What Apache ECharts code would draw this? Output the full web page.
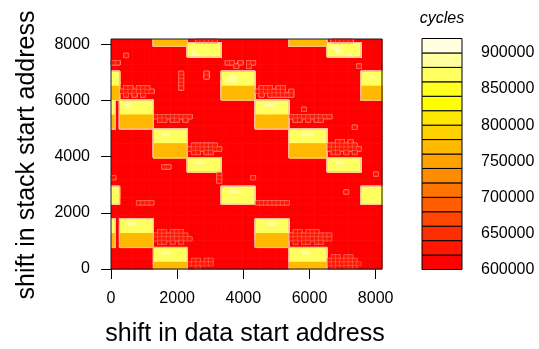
<!DOCTYPE html>
<html><head><meta charset="utf-8">
<script src="https://cdn.jsdelivr.net/npm/echarts@6/dist/echarts.min.js"></script>
<style>html,body{margin:0;padding:0;background:#fff}#c{width:539px;height:349px}</style>
</head><body><div id="c"></div>
<script>
// ---- data ----
const xTicks = [0, 2000, 4000, 6000, 8000];
const yTicks = [0, 2000, 4000, 6000, 8000];
const levelTicks = [600000, 650000, 700000, 750000, 800000, 850000, 900000];
const levelBreaks = [600000, 620000, 640000, 660000, 680000, 700000, 720000, 740000,
  760000, 780000, 800000, 820000, 840000, 860000, 880000, 900000, 920000];
const levelColors = ['#FF0000', '#FF1700', '#FF2E00', '#FF4600', '#FF5D00', '#FF7400', '#FF8B00', '#FFA200',
  '#FFB900', '#FFD100', '#FFE800', '#FFFF00', '#FFFF20', '#FFFF60', '#FFFF9F', '#FFFFDF'];
const addrMax = 8192;
const addrStep = 128; // measurement step in both address directions
// one string per stack shift (top = 8064 ... bottom = 0); one hex digit per data shift = colour level index
const levelRows = [
"00 00000000 88888888 00111110 00000000 00000000 888888888 01111100 00000",
"00 00000000 88888888 dddddddd 00000000 00000000 888888888 dddddddd 00000",
"00 00000000 00000000 dddddddd 00000000 00000000 000000000 deeddddd 00000",
"00 00000000 00000000 dedddddd 00000000 00000000 000000000 ddeedddd 00000",
"00 01000000 00000000 deeddddd 00000000 00000000 000000000 dddddedd 00000",
"00 00000000 00000000 00000000 00000000 00000000 000000000 00000000 00000",
"11 00000000 00000000 00000000 01101011 00000000 000000000 00000000 00000",
"00 00000000 00000000 00000000 00010010 00000000 000000000 00000001 00000",
"00 00000000 00000000 00000000 00000000 00000000 000000000 00000000 00000",
"dd 00000000 00000010 00001000 dddddddd 00000000 000000000 00000000 ddddd",
"dd 00000000 00000010 00001000 ddeedddd 00000000 000000000 00000000 ddedd",
"dd 00000000 00000010 00000000 deeedddd 00000000 000000000 00000000 ddddd",
"dd 00000000 00000010 00000000 dddddddd 00000000 000000000 00000000 ddddd",
"88 01101110 00000010 00000000 88888888 01110110 000000000 00000000 88888",
"88 11111111 00000000 00000000 88888888 11111110 100000000 00000000 88888",
"88 01010100 00000000 00000000 88888888 01011111 100000000 00000000 88888",
"88 00000000 00000000 00000000 88888888 00000000 000000000 00000000 88888",
"d0 dddddddd 00000000 00000000 00000000 dddddddd 000000000 00000000 00000",
"d0 deeddddd 00000000 00000000 00000000 ddeeeddd 000000000 00000000 00000",
"d0 dddddddd 00000000 00000000 00000000 dddddddd 000100000 00000000 00000",
"d0 dddddddd 00000000 00000000 00000000 dddddddd 000000000 00000000 00000",
"80 88888888 11111111 10000000 00000000 88888888 111111111 10000000 00000",
"80 88888888 01101101 00000000 00000000 88888888 011010110 00000000 00000",
"80 88888888 00000000 00000000 00000000 88888888 000000000 00000000 00000",
"80 88888888 00000000 00000000 00000000 88888888 000000000 00000010 00000",
"00 00000000 dddddddd 00000000 00000000 00000000 ddddddddd 00000000 00000",
"00 00000000 ddeedddd 00000000 00000000 00000000 dddeeeddd 00000000 00000",
"00 00000000 dddddddd 00000000 00000000 00000000 ddddddddd 00000000 00000",
"00 00000000 dddddddd 00000000 00000000 00000000 ddddddddd 00110100 00000",
"00 00000000 88888888 01111110 00000000 00000000 888888888 11111110 00000",
"00 00000000 88888888 11111111 00000000 00000000 888888888 11111111 00000",
"00 00000000 88888888 01101100 00000000 00000000 888888888 01101010 00000",
"00 00000000 88888888 00000000 00000000 00000000 888888888 00000000 00000",
"00 00000000 00000000 dddddddd 00000000 00000000 000000000 dddddddd 00000",
"00 00000000 00000000 ddeedddd 00000000 00000000 000000000 ddeedddd 00000",
"00 00000000 00110000 dddddddd 00000000 00000000 000000000 dddddddd 00000",
"00 00000000 00000000 dddddddd 00000000 00000000 000000000 dddddddd 00000",
"00 00000000 00000000 00000001 00000000 00000000 000000000 00000000 00010",
"10 00000000 00000000 00000001 00000001 00000000 000000000 00000000 00000",
"00 00000000 00000000 00000001 00000000 00000000 000000000 00000000 00000",
"00 00000000 00000000 00000000 00000000 00000000 000000000 00000000 00000",
"dd 00000000 00000000 00000000 dddddddd 00000000 000000000 00000000 ddddd",
"dd 00000000 00000000 00000000 ddeedddd 00000000 000000000 00001000 ddddd",
"dd 00000000 00000000 00000000 dddddddd 00000000 000000000 00000000 ddddd",
"dd 00000000 00000000 00000000 dddddddd 00000000 000000000 00000000 ddddd",
"dd 00001111 00000000 00000000 dddddddd 11111111 000000000 00000000 ddddd",
"00 00000000 00000000 00000000 00000000 00000000 000000000 00000000 00000",
"00 00000000 00000000 00000000 00000000 00000000 000000000 00000000 00000",
"00 00000000 00000000 00000000 00000000 00000000 000000000 00000000 00000",
"00 00000000 00000000 00000000 00000000 00000000 000000000 00000000 00000",
"d0 dddddddd 00000000 00000000 00000000 dddddddd 000000000 00000000 00000",
"d0 ddeedddd 00000000 00000000 00000000 dddeeddd 000000000 00000000 00000",
"d0 dddddddd 00000000 00000000 00000000 dddddddd 000000000 00000000 00000",
"d0 dddddddd 01101110 00000000 00000000 dddddddd 011011100 00000000 00000",
"80 88888888 11111111 00000000 00000000 88888888 111111111 10000000 00000",
"80 88888888 11111111 10000000 00000000 88888888 111111111 10000000 00000",
"80 88888888 01101010 00000000 00000000 88888888 010110110 00000000 00000",
"80 88888888 00000000 00000000 00000000 88888888 000000000 00000000 00000",
"00 00000000 dddddddd 00000000 00000000 00000000 ddddddddd 00000000 00000",
"00 00000000 ddeedddd 00000000 00000000 00000000 dddeedddd 00000000 00000",
"00 00000000 dddddddd 00000000 00000000 00000000 ddddddddd 01101100 00000",
"00 00000000 dddddddd 01101100 00000000 00000000 ddddddddd 11111110 00000",
"00 00000000 88888888 11111100 00000000 00000000 888888888 11111111 00000",
"00 00000000 88888888 00100000 00000000 00000000 888888888 01101110 00000"
];

// ---- build series data ----
const cells = [];
const levelGrid = []; // levelGrid[row][col], row 0 = stack shift 0
const nRows = levelRows.length;
levelRows.forEach((rowStr, i) => {
  const s = rowStr.replace(/ /g, '');
  const r = nRows - 1 - i;
  levelGrid[r] = [];
  for (let c = 0; c < s.length; c++) {
    const lvl = parseInt(s[c], 16);
    levelGrid[r][c] = lvl;
    cells.push([c * addrStep, r * addrStep, (levelBreaks[lvl] + levelBreaks[lvl + 1]) / 2]);
  }
});
const barSegs = [];
for (let k = 0; k < levelColors.length; k++) barSegs.push([levelBreaks[k], levelBreaks[k + 1], k]);

function levelOf(v) {
  for (let k = levelColors.length - 1; k >= 0; k--) if (v >= levelBreaks[k]) return k;
  return 0;
}
function lvlAt(r, c) {
  if (r < 0 || r >= levelGrid.length || c < 0 || c >= levelGrid[r].length) return null;
  return levelGrid[r][c];
}
const plain = v => String(v);

const FONT = 'Liberation Sans, Arial, Helvetica, sans-serif';
const EDGE = 'rgba(255,185,160,0.95)';
const chart = echarts.init(document.getElementById('c'), null, {renderer: 'canvas'});
chart.setOption({
  animation: false,
  backgroundColor: '#ffffff',
  grid: [
    {left: 111, top: 39, width: 271, height: 230, show: true, borderColor: '#1a1a1a', borderWidth: 1, backgroundColor: 'transparent', z: 5},
    {left: 422, top: 38.5, width: 40, height: 231, show: false}
  ],
  xAxis: [
    {type: 'value', gridIndex: 0, min: 0, max: addrMax, axisLine: {show: false},
     axisTick: {show: true, length: 10, customValues: xTicks, lineStyle: {color: '#000'}},
     axisLabel: {customValues: xTicks, formatter: plain, margin: 22, fontSize: 16, color: '#000', fontFamily: FONT},
     splitLine: {show: false}},
    {type: 'value', gridIndex: 1, min: 0, max: 1, show: false}
  ],
  yAxis: [
    {type: 'value', gridIndex: 0, min: 0, max: addrMax, axisLine: {show: false},
     axisTick: {show: true, length: 10, customValues: yTicks, lineStyle: {color: '#000'}},
     axisLabel: {customValues: yTicks, formatter: plain, margin: 21, fontSize: 16, color: '#000', fontFamily: FONT},
     splitLine: {show: false}},
    {type: 'value', gridIndex: 1, position: 'right', min: levelBreaks[0], max: levelBreaks[levelBreaks.length - 1],
     axisLine: {show: false},
     axisTick: {show: true, length: 10, customValues: levelTicks, lineStyle: {color: '#000'}},
     axisLabel: {customValues: levelTicks, formatter: plain, margin: 19, fontSize: 16, color: '#000', fontFamily: FONT},
     splitLine: {show: false}}
  ],
  series: [
    {
      type: 'custom', xAxisIndex: 0, yAxisIndex: 0, clip: true, data: cells,
      renderItem: function (params, api) {
        const x = api.value(0), y = api.value(1), v = api.value(2);
        const p0 = api.coord([x, y + addrStep]);
        const p1 = api.coord([x + addrStep, y]);
        const lvl = levelOf(v);
        const col = levelColors[lvl];
        const hatch = lvl === 1;
        const children = [{
          type: 'rect',
          shape: {x: p0[0], y: p0[1], width: p1[0] - p0[0] + 0.6, height: p1[1] - p0[1] + 0.6},
          style: hatch ? {fill: col, stroke: 'rgba(255,150,150,0.7)', lineWidth: 0.5} : {fill: col},
          z2: hatch ? 3 : (lvl > 0 ? 2 : 1)
        }];
        if (lvl >= 8) {
          const c = Math.round(x / addrStep), r = Math.round(y / addrStep);
          const sides = [
            [lvlAt(r, c - 1), p0[0], p0[1], p0[0], p1[1]],
            [lvlAt(r, c + 1), p1[0], p0[1], p1[0], p1[1]],
            [lvlAt(r + 1, c), p0[0], p0[1], p1[0], p0[1]],
            [lvlAt(r - 1, c), p0[0], p1[1], p1[0], p1[1]]
          ];
          sides.forEach(sd => {
            if (sd[0] !== null && sd[0] < 8) {
              children.push({type: 'line', shape: {x1: sd[1], y1: sd[2], x2: sd[3], y2: sd[4]},
                style: {stroke: EDGE, lineWidth: 1.2}, z2: 4});
            }
          });
        }
        return {type: 'group', children: children};
      }
    },
    {
      type: 'custom', xAxisIndex: 1, yAxisIndex: 1, data: barSegs,
      renderItem: function (params, api) {
        const lo = api.value(0), hi = api.value(1), k = api.value(2);
        const p0 = api.coord([0, hi]);
        const p1 = api.coord([1, lo]);
        return {
          type: 'rect',
          shape: {x: p0[0], y: p0[1], width: p1[0] - p0[0], height: p1[1] - p0[1]},
          style: {fill: levelColors[k], stroke: '#000', lineWidth: 1}
        };
      }
    }
  ],
  graphic: [
    {type: 'text', x: 245, y: 334, style: {text: 'shift in data start address', fontSize: 25, fontFamily: FONT, fill: '#000', align: 'center', verticalAlign: 'middle'}},
    {type: 'text', x: 27, y: 155, rotation: Math.PI / 2, style: {text: 'shift in stack start address', fontSize: 25, fontFamily: FONT, fill: '#000', align: 'center', verticalAlign: 'middle'}},
    {type: 'text', x: 442, y: 19, style: {text: 'cycles', fontSize: 16, fontStyle: 'italic', fontFamily: FONT, fill: '#000', align: 'center', verticalAlign: 'middle'}}
  ]
});
</script></body></html>
